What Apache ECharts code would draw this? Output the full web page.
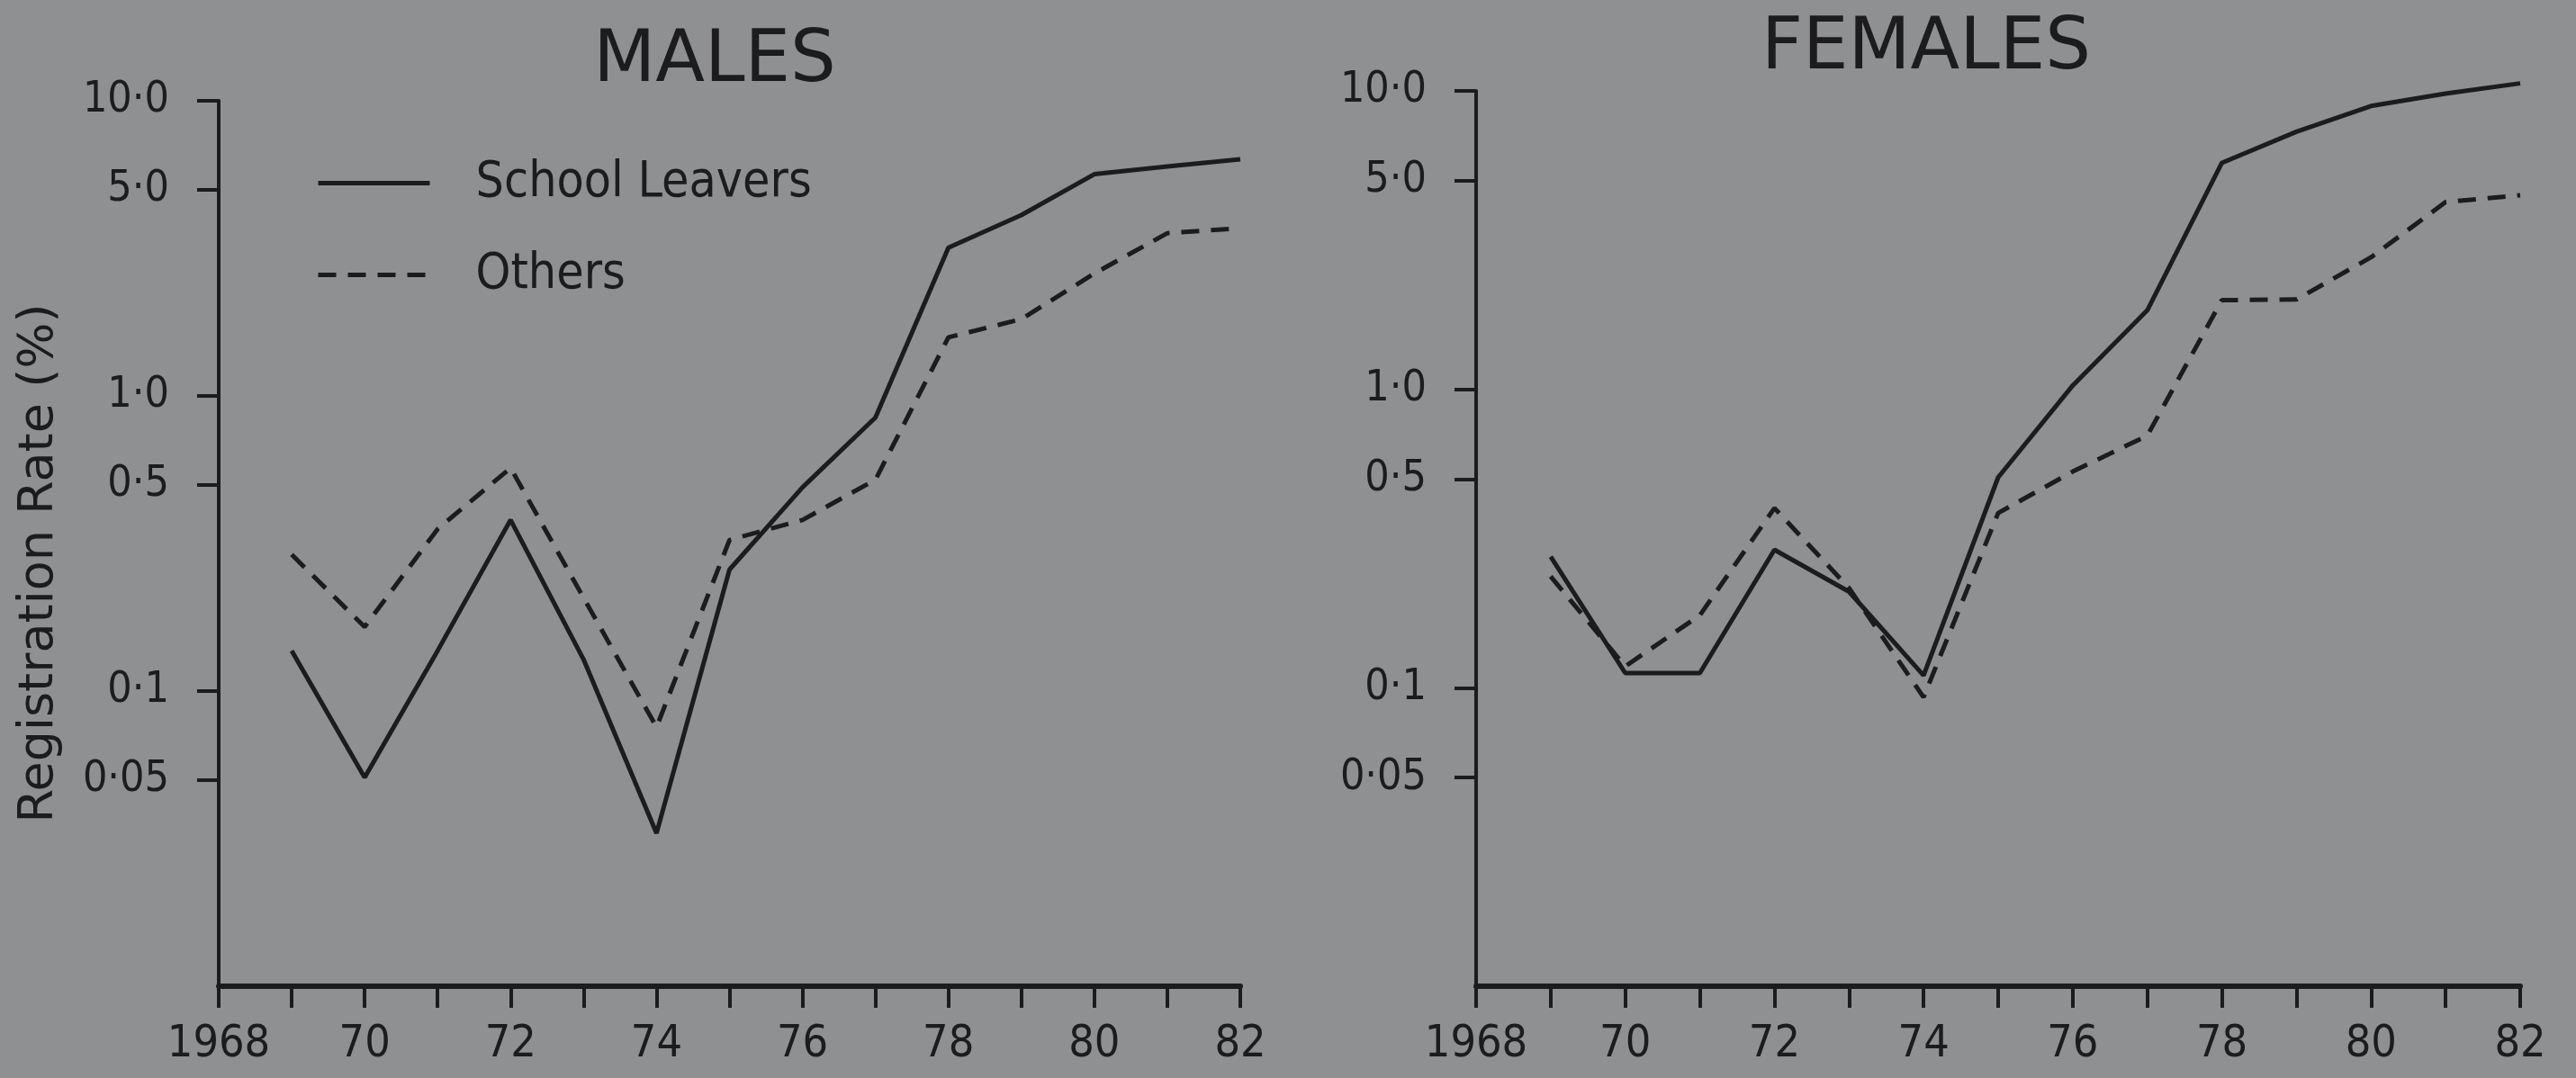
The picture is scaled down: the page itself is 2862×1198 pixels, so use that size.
<!DOCTYPE html>
<html>
<head>
<meta charset="utf-8">
<script src="https://cdn.jsdelivr.net/npm/echarts@6/dist/echarts.min.js"></script>
<style>
html,body{margin:0;padding:0;background:#8f9092;}
#chart{width:2862px;height:1198px;}
</style>
</head>
<body>
<div id="chart"></div>
<script>
// ---- data ----
const years = [1969,1970,1971,1972,1973,1974,1975,1976,1977,1978,1979,1980,1981,1982];
const malesSchoolLeavers   = [0.137,0.051,0.137,0.38,0.128,0.033,0.258,0.49,0.845,3.18,4.1,5.64,5.99,6.34];
const malesOthers          = [0.29,0.165,0.354,0.57,0.207,0.0755,0.325,0.38,0.52,1.58,1.82,2.6,3.56,3.7];
const femalesSchoolLeavers = [0.275,0.112,0.112,0.29,0.21,0.11,0.507,1.03,1.84,5.74,7.3,8.9,9.8,10.6];
const femalesOthers        = [0.236,0.118,0.175,0.40,0.216,0.093,0.385,0.53,0.70,1.99,2.0,2.77,4.24,4.47];

const xTickValues = [1968,1970,1972,1974,1976,1978,1980,1982];
const xTickLabels = ['1968','70','72','74','76','78','80','82'];
const yTickValues = [0.05,0.1,0.5,1,5,10];
const yTickLabels = ['0·05','0·1','0·5','1·0','5·0','10·0'];

const seriesNames = ['School Leavers','Others'];
const panelTitles = ['MALES','FEMALES'];
const yAxisTitle = 'Registration Rate (%)';

// ---- styling ----
const INK = '#1c1c1e';
const FONT = '"DejaVu Sans Condensed","DejaVu Sans",sans-serif';

function pairs(vals){ return years.map((y,i)=>[y, vals[i]]); }
function xFmt(v){ const i = xTickValues.indexOf(Math.round(v)); return i>=0 ? xTickLabels[i] : ''; }
function yFmt(v){
  for (let i=0;i<yTickValues.length;i++){
    if (Math.abs(Math.log10(v)-Math.log10(yTickValues[i]))<1e-6) return yTickLabels[i];
  }
  return '';
}

function xAxis(gi){
  return {
    type:'value', gridIndex:gi, min:1968, max:1982, interval:1,
    axisLine:{show:true, onZero:false, lineStyle:{color:INK,width:6}},
    axisTick:{show:true, inside:false, length:24, lineStyle:{color:INK,width:4}},
    axisLabel:{show:true, margin:40, formatter:xFmt, color:INK, fontFamily:FONT, fontSize:50},
    splitLine:{show:false}
  };
}
function yAxis(gi){
  return {
    type:'log', logBase:10, gridIndex:gi, min:0.01, max:10,
    axisLine:{show:true, lineStyle:{color:INK,width:4}},
    axisTick:{show:true, inside:false, length:24, customValues:yTickValues, lineStyle:{color:INK,width:4}},
    axisLabel:{show:true, margin:55, customValues:yTickValues, formatter:yFmt, color:INK, fontFamily:FONT, fontSize:48},
    splitLine:{show:false}, minorTick:{show:false}
  };
}
function line(name, gi, vals, dashed){
  return {
    type:'line', name:name, xAxisIndex:gi, yAxisIndex:gi, data:pairs(vals),
    symbol:'none', clip:false, silent:true,
    lineStyle:{color:INK, width:5, type: dashed ? [20,13] : 'solid'},
    itemStyle:{color:INK}
  };
}

const chart = echarts.init(document.getElementById('chart'), null, {renderer:'canvas'});
chart.setOption({
  backgroundColor:'#8f9092',
  animation:false,
  grid:[
    {left:243, top:112, width:1135, height:984},
    {left:1640, top:101, width:1160, height:995}
  ],
  xAxis:[xAxis(0), xAxis(1)],
  yAxis:[yAxis(0), yAxis(1)],
  legend:{
    orient:'vertical', left:351, top:176, padding:0, itemGap:47,
    itemWidth:124, itemHeight:2,
    data:seriesNames,
    itemStyle:{opacity:0},
    lineStyle:{width:5, color:INK},
    textStyle:{color:INK, fontFamily:FONT, fontSize:55, padding:[0,0,0,46]},
    selectedMode:false
  },
  graphic:[
    {type:'text', x:794, y:69, style:{text:panelTitles[0], align:'center', verticalAlign:'middle', fill:INK, font:'80px "DejaVu Sans",sans-serif'}},
    {type:'text', x:2140, y:55, style:{text:panelTitles[1], align:'center', verticalAlign:'middle', fill:INK, font:'80px "DejaVu Sans",sans-serif'}},
    {type:'text', x:44, y:626, rotation:Math.PI/2, style:{text:yAxisTitle, align:'center', verticalAlign:'middle', fill:INK, font:'54px "DejaVu Sans",sans-serif'}}
  ],
  series:[
    line(seriesNames[0],0,malesSchoolLeavers,false),
    line(seriesNames[1],0,malesOthers,true),
    line(seriesNames[0],1,femalesSchoolLeavers,false),
    line(seriesNames[1],1,femalesOthers,true)
  ]
});
</script>
</body>
</html>
